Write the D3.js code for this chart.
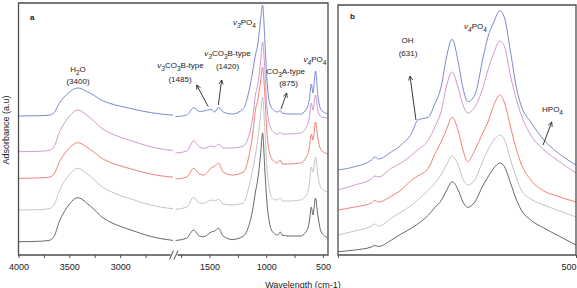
<!DOCTYPE html>
<html>
<head>
<meta charset="utf-8">
<script src="https://cdn.jsdelivr.net/npm/d3@7"></script>
<style>
body { margin: 0; background: #fff; }
svg { display: block; font-family: "Liberation Sans", Arial, sans-serif; }
.tick text { font-size: 9px; fill: #222; }
.tick line { stroke: #4d4d4d; }
.lbl { font-size: 8px; fill: #222; }
.frame { fill: none; stroke: #4d4d4d; stroke-width: 1.3; }
</style>
</head>
<body>
<svg width="577" height="288"></svg>
<script>
// wavenumbers (cm-1) for each part of the spectra
var wnLeft = [4000, 3800, 3700, 3650, 3600, 3550, 3500, 3450, 3420, 3380, 3330, 3250, 3200, 3100, 3000, 2900, 2800, 2700, 2600, 2480];
var wnRight = [1800, 1700, 1640, 1590, 1550, 1485, 1455, 1420, 1380, 1300, 1200, 1160, 1120, 1095, 1075, 1050, 1032, 1012, 995, 965, 935, 900, 875, 860, 800, 700, 650, 620, 602, 588, 565, 545, 515, 455];
var wnB = [700, 686, 672, 669, 666, 655, 647, 638, 633, 624, 619, 613, 609, 604, 599, 595, 591, 585, 578, 574, 569, 564, 560, 555, 550, 546, 538, 527, 516, 500];

// absorbance (a.u., stacked) - panel a, 4000-2480
var blueLeft = [139, 139.3, 139.8, 142.4, 151.6, 158, 162.8, 166.2, 167, 166.2, 163.6, 159.2, 155.8, 151.6, 148.8, 146.6, 144.3, 142.4, 141, 139.8];
var purpleLeft = [103.3, 103.7, 104.5, 108.3, 122.1, 131.7, 138.7, 143.7, 145, 143.7, 140, 133.3, 128.3, 122.1, 117.9, 114.6, 111.2, 108.3, 106.2, 104.5];
var redLeft = [76.7, 77.1, 77.8, 81, 92.7, 100.9, 107, 111.2, 112.3, 111.2, 108, 102.3, 98.1, 92.7, 89.2, 86.3, 83.5, 81, 79.2, 77.8];
var greyLeft = [45, 45.4, 46.3, 50, 63.8, 73.4, 80.4, 85.4, 86.7, 85.4, 81.7, 75, 70, 63.8, 59.6, 56.3, 52.9, 50, 47.9, 46.3];
var darkLeft = [13.3, 13.7, 14.6, 18.6, 33.1, 43.2, 50.7, 56, 57.3, 56, 52, 45, 39.7, 33.1, 28.7, 25.2, 21.7, 18.6, 16.4, 14.6];

// panel a, 1800-455
var blueRight = [138.3, 140, 147.3, 143.5, 144, 145.5, 143, 147.7, 143, 141, 146.5, 160, 183, 200, 210, 235, 250, 215, 178, 150, 145, 143, 144.5, 142, 141, 141, 145, 155, 171, 162, 184, 160, 145, 141];
var purpleRight = [102, 104, 114.3, 108, 106.7, 109, 108, 111, 107, 107, 109, 117, 137, 160, 170, 193, 213, 185, 150, 128, 123, 121, 122.5, 121, 121, 122, 127, 137, 152, 145, 160, 145, 138, 137];
var redRight = [76, 78, 86.7, 81, 80, 87, 89, 91.7, 83, 80, 83, 95, 120, 145, 155, 173, 188, 160, 125, 100, 94, 92, 95, 91, 91, 92, 97, 107, 121, 115, 133, 117, 105, 101];
var greyRight = [45.7, 48, 57.7, 52, 51.7, 55, 54, 55.7, 51, 50, 52, 65, 85, 100, 115, 140, 158, 125, 90, 62, 56, 55, 57, 54, 54, 55, 59, 70, 88, 83, 98, 80, 67, 63];
var darkRight = [14.5, 17, 25, 19, 18.3, 23, 24, 26.7, 19, 15.5, 19, 27, 45, 63, 75, 100, 122, 85, 55, 29, 22, 20, 23, 20, 19, 19, 23, 33, 48, 40, 57, 40, 23, 17];

// panel b, 700-500
var blueB = [85, 88.3, 95, 98, 96, 103.3, 110, 122, 135, 138, 150, 170, 197, 215.7, 193, 167, 153.3, 160, 198, 218, 233, 244.3, 237, 203, 167, 149, 133, 115, 103, 90];
var purpleB = [65, 70, 76, 79, 78, 87, 92, 100, 105, 115, 127, 145, 168, 183, 167, 150, 142, 148, 168, 185, 202, 214, 208, 179, 155, 140, 120, 105, 95, 82];
var redB = [45, 48, 52, 54.5, 53, 59, 65, 75, 79, 87, 100, 114, 125, 137.7, 124, 105, 93.3, 105, 123, 133, 150, 160, 152, 128, 105, 91, 75, 64, 59, 53];
var greyB = [20, 24, 29, 31, 29, 37, 43, 50, 55, 65, 71, 81, 90, 99, 90, 76, 70, 75, 95, 105, 115, 120, 115, 95, 77, 65, 56, 50, 45, 38];
var darkB = [3.3, 5, 8, 9.5, 8.5, 15, 21, 27, 31, 40, 47, 55, 64, 73.3, 65, 53, 47.7, 53, 70, 78, 87, 92, 88, 72, 55, 45, 35, 27, 20, 10];

var ticksLeft = [4000, 3750, 3500, 3250, 3000, 2750];
var ticksRight = [1750, 1500, 1250, 1000, 750, 500];
var ticksB = [700, 500];

var colors = ["#6c7cc8", "#c98fc6", "#ef7268", "#bdbdbd", "#575757"];

var svg = d3.select("svg");

var y = d3.scaleLinear().domain([0, 252]).range([255, 3]);
var xLeft = d3.scaleLinear().domain([4000, 2480]).range([18.5, 173]);
var xRight = d3.scaleLinear().domain([1800, 455]).range([175.5, 328]);
var xB = d3.scaleLinear().domain([700, 500]).range([338, 576]);

function drawSeries(xs, series, xScale) {
  var line = d3.line()
    .x(function(d) { return xScale(d[0]); })
    .y(function(d) { return y(d[1]); })
    .curve(d3.curveMonotoneX);
  svg.append("g").selectAll("path")
    .data(series.map(function(s) { return d3.zip(xs, s); }))
    .enter().append("path")
      .attr("d", line)
      .attr("fill", "none")
      .attr("stroke", function(d, i) { return colors[i]; })
      .attr("stroke-width", 0.9);
}

drawSeries(wnLeft, [blueLeft, purpleLeft, redLeft, greyLeft, darkLeft], xLeft);
drawSeries(wnRight, [blueRight, purpleRight, redRight, greyRight, darkRight], xRight);
drawSeries(wnB, [blueB, purpleB, redB, greyB, darkB], xB);

// frames
svg.append("path").attr("class", "frame")
  .attr("d", "M170.5,255H18.5V3H328V255H177.5");
svg.append("path").attr("class", "frame")
  .attr("d", "M338,5H576V255H338Z");
// axis break
svg.append("path").attr("fill", "none").attr("stroke", "#4d4d4d").attr("stroke-width", 1)
  .attr("d", "M169.5,259.5L173.5,250.5M174,259.5L178,250.5");

function axis(scale, vals) {
  var g = svg.append("g").attr("transform", "translate(0,255)")
    .call(d3.axisBottom(scale).tickValues(vals).tickSize(3).tickPadding(6)
      .tickFormat(function(d) { return d % 500 ? "" : d; }));
  g.select(".domain").remove();
  return g;
}
axis(xLeft, ticksLeft);
axis(xRight, ticksRight);
var gb = axis(xB, ticksB);
gb.selectAll(".tick text").attr("text-anchor", function(d) { return d === 700 ? "start" : "end"; })
  .attr("dx", function(d) { return d === 700 ? -1 : 0; });

svg.append("text").attr("x", 303).attr("y", 287.5).attr("text-anchor", "middle")
  .attr("font-size", 9).attr("fill", "#222").text("Wavelength (cm-1)");
svg.append("text").attr("transform", "translate(8.5,130) rotate(-90)").attr("text-anchor", "middle")
  .attr("font-size", 9).attr("fill", "#222").text("Adsorbance (a.u)");

// labels with italic v and subscripts
function rich(x, yb, parts) {
  var t = svg.append("text").attr("class", "lbl").attr("x", x).attr("y", yb).attr("text-anchor", "middle");
  var shift = 0;
  parts.forEach(function(p) {
    var s = t.append("tspan").text(p[0]);
    var kind = p[1] || "";
    var target = kind.indexOf("s") >= 0 ? 3 : 0;
    if (target !== shift) s.attr("dy", target - shift);
    shift = target;
    if (kind.indexOf("s") >= 0) s.attr("font-size", 6.5);
    if (kind.indexOf("i") >= 0) s.style("font-style", "italic");
  });
}

svg.append("text").attr("x", 30).attr("y", 19.5).attr("font-size", 8).attr("font-weight", "bold").attr("fill", "#222").text("a");
svg.append("text").attr("x", 350).attr("y", 18.5).attr("font-size", 8).attr("font-weight", "bold").attr("fill", "#222").text("b");

rich(78, 71.5, [["H"], ["2", "s"], ["O"]]);
rich(78, 83.5, [["(3400)"]]);
rich(180.5, 68, [["v", "i"], ["3", "is"], ["CO"], ["3", "s"], ["B-type"]]);
rich(180, 81.5, [["(1485)"]]);
rich(227.5, 56, [["v", "i"], ["3", "is"], ["CO"], ["3", "s"], ["B-type"]]);
rich(227.5, 69, [["(1420)"]]);
rich(244.5, 24.5, [["v", "i"], ["3", "is"], ["PO"], ["4", "s"]]);
rich(285.5, 74, [["CO"], ["3", "s"], ["A-type"]]);
rich(288.5, 86, [["(875)"]]);
rich(315, 62, [["v", "i"], ["4", "is"], ["PO"], ["4", "s"]]);
rich(407.5, 43, [["OH"]]);
rich(408, 56, [["(631)"]]);
rich(475.5, 29, [["v", "i"], ["4", "is"], ["PO"], ["4", "s"]]);
rich(552.5, 112, [["HPO"], ["4", "s"]]);

// arrows [x0, v0, x1, v1] in wavenumber / absorbance
svg.append("defs").append("marker")
  .attr("id", "arr").attr("viewBox", "0 0 10 10").attr("refX", 9).attr("refY", 5)
  .attr("markerWidth", 6).attr("markerHeight", 6).attr("orient", "auto")
  .append("path").attr("d", "M1,1L9,5L1,9").attr("fill", "none").attr("stroke", "#222").attr("stroke-width", 1.4);

var arrowsA = [[1511, 148.3, 1613, 170], [1422, 150, 1393, 175], [869, 146, 819, 162]];
var arrowsB = [[634.5, 135, 639.5, 179], [527.7, 110, 520.4, 133]];
function arrows(list, xScale) {
  svg.append("g").selectAll("line").data(list).enter().append("line")
    .attr("x1", function(d) { return xScale(d[0]); })
    .attr("y1", function(d) { return y(d[1]); })
    .attr("x2", function(d) { return xScale(d[2]); })
    .attr("y2", function(d) { return y(d[3]); })
    .attr("stroke", "#222").attr("stroke-width", 0.9)
    .attr("marker-end", "url(#arr)");
}
arrows(arrowsA, xRight);
arrows(arrowsB, xB);
</script>
</body>
</html>
